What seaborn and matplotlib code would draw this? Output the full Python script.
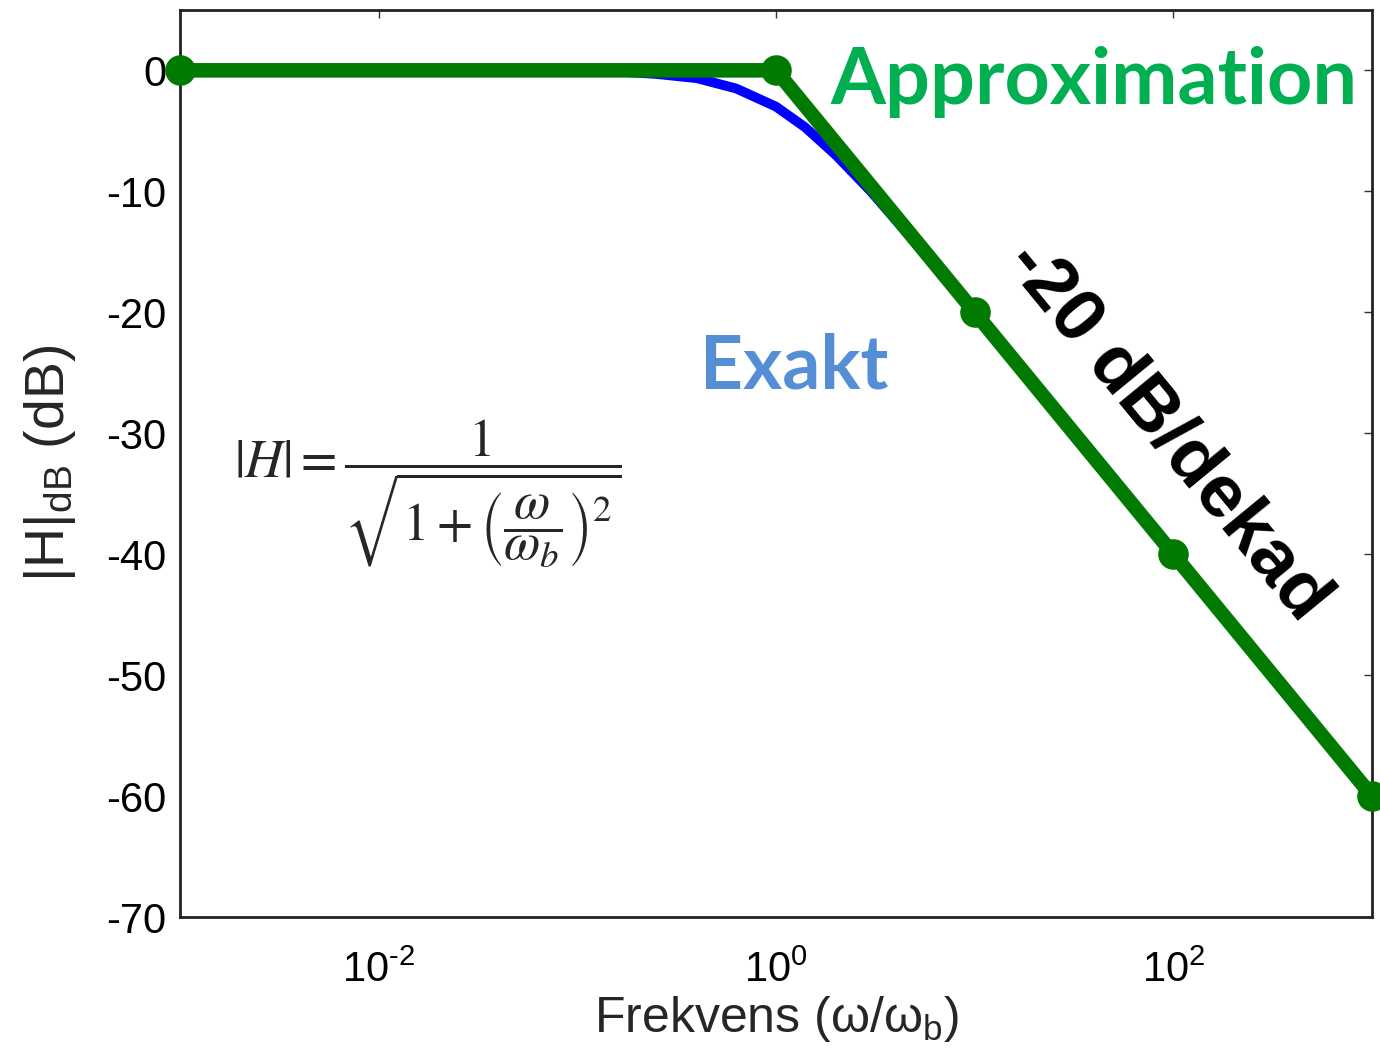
import numpy as np
import matplotlib
matplotlib.use('Agg')
import matplotlib.pyplot as plt
import seaborn as sns
import pandas as pd

sns.set_style("white")
plt.rcParams['font.family'] = ['Liberation Sans', 'DejaVu Sans']
plt.rcParams['mathtext.fontset'] = 'custom'
plt.rcParams['mathtext.rm'] = 'Liberation Sans'
plt.rcParams['mathtext.it'] = 'Liberation Sans:italic'


# ── Data ─────────────────────────────────────────────────────
# exact curve
w_exact  = [0.001, 0.01, 0.1, 0.16, 0.25, 0.4, 0.63, 1.0, 1.4, 2.0, 3.0,
            5.0, 10, 20, 50, 100, 200, 500, 1000]
db_exact = [0.0, 0.0, -0.04, -0.1, -0.3, -0.65, -1.5, -3.0, -4.7, -7.0,
            -10.0, -14.2, -20.0, -26.0, -34.0, -40.0, -46.0, -54.0, -60.0]

# asymptotic approximation
w_appr  = [0.001, 1, 10, 100, 1000]
db_appr = [0, 0, -20, -40, -60]

y_ticks = [0, -10, -20, -30, -40, -50, -60, -70]
x_ticks = [1e-2, 1e0, 1e2]
x_tick_labels = [r'10$^{\text{-2}}$', r'10$^{\text{0}}$', r'10$^{\text{2}}$']

exact = pd.DataFrame({'w': w_exact, 'dB': db_exact})
appr  = pd.DataFrame({'w': w_appr, 'dB': db_appr})


# ── Plot ─────────────────────────────────────────────────────
fig = plt.figure(figsize=(13.8, 10.61), dpi=100)
ax = fig.add_axes([0.1304, 0.1357, 0.8638, 0.855])

sns.lineplot(data=exact, x='w', y='dB', color='#0000FF', linewidth=7,
             sort=False, ax=ax)
sns.lineplot(data=appr, x='w', y='dB', color='#007A00', linewidth=10.5,
             marker='o', markersize=22, markeredgewidth=0, sort=False,
             ax=ax, clip_on=False, zorder=5)

ax.set_xscale('log')
ax.set_xlim(1e-3, 1e3)
ax.set_ylim(-70, 5)
ax.set_xticks(x_ticks)
ax.set_xticklabels(x_tick_labels)
ax.xaxis.set_minor_locator(matplotlib.ticker.NullLocator())
ax.set_yticks(y_ticks)
ax.set_yticklabels([str(v) for v in y_ticks])
ax.tick_params(axis='both', direction='in', length=6, width=1,
               top=True, right=True, labelsize=30, colors='#333333',
               labelcolor='black')
ax.tick_params(axis='x', pad=24)
ax.tick_params(axis='y', pad=10)
for s in ax.spines.values():
    s.set_linewidth(2)
    s.set_color('#222222')

ax.set_xlabel('Frekvens (ω/ω$_{\\mathregular{b}}$)', fontsize=36, labelpad=2)
ax.set_ylabel('$\\mathregular{|H|_{dB}}$ (dB)', fontsize=40, labelpad=20)

# annotations
ax.text(1.87, -1.0, 'Approximation', color='#00B050', fontsize=57,
        fontweight='bold', family=['Lato', 'DejaVu Sans'],
        ha='left', va='center')
ax.text(0.414, -24.5, 'Exakt', color='#558ED5', fontsize=54,
        fontweight='bold', family=['Lato', 'DejaVu Sans'],
        ha='left', va='center')
ax.text(93, -29.8, '-20 dB/dekad', color='black', fontsize=54,
        fontweight='bold', family=['Liberation Sans', 'DejaVu Sans'],
        rotation=-50.6, rotation_mode='anchor', ha='center', va='center')
ax.text(0.001 * 10 ** 0.27, -35.0,
        r'$|H| = \dfrac{1}{\sqrt{1+\left(\dfrac{\omega}{\omega_b}\right)^2}}$',
        fontsize=38, math_fontfamily='stix', ha='left', va='center')

plt.savefig('out.png', dpi=100)
plt.close()
